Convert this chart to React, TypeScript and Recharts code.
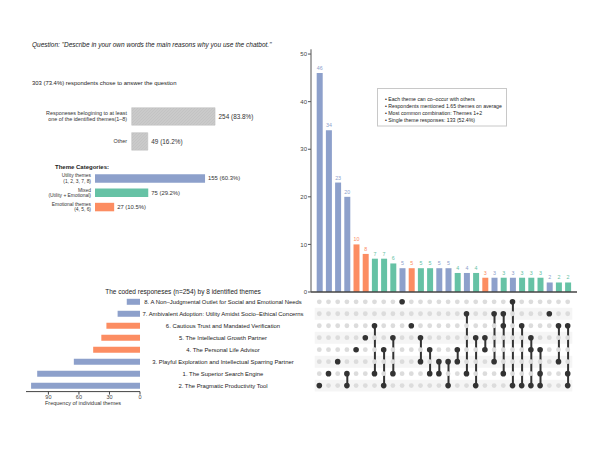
import {
  Bar,
  BarChart,
  Cell,
  ComposedChart,
  LabelList,
  Line,
  ReferenceArea,
  ReferenceLine,
  XAxis,
  YAxis,
} from "recharts";

const FONT = "'Liberation Sans', Arial, sans-serif";
const UTIL = "#8da0cb";
const MIXED = "#66c2a5";
const EMO = "#fc8d62";

// top-left: who answered
const answerLabels = [
  "Responeses belogining to at least\none of the identified themes(1–8)",
  "Other",
];
const answerCounts = [254, 49];
const answerPcts = ["83.8%", "16.2%"];

// theme categories
const categoryLabels = [
  "Utility themes\n(1, 2, 3, 7, 8)",
  "Mixed\n(Utility + Emotional)",
  "Emotional themes\n(4, 5, 6)",
];
const categoryCounts = [155, 75, 27];
const categoryPcts = ["60.3%", "29.2%", "10.5%"];

// matrix rows, top to bottom
const themeOrder = [8, 7, 6, 5, 4, 3, 1, 2];
const themeNames = [
  "8. A Non–Judgmental Outlet for Social and Emotional Needs",
  "7. Ambivalent Adoption: Utility Amidst Socio–Ethical Concerns",
  "6. Cautious Trust and Mandated Verification",
  "5. The Intellectual Growth Partner",
  "4. The Personal Life Advisor",
  "3. Playful Exploration and Intellectual Sparring Partner",
  "1. The Superior Search Engine",
  "2. The Pragmatic Productivity Tool",
];
const themeFreq = [13, 22, 33, 38, 46, 65, 101, 107];

// intersections
const comboCounts = [
  46, 34, 23, 20, 10, 8, 7, 7, 6, 5, 5, 5, 5, 5, 5, 4, 4, 4, 3, 3, 3, 3, 3, 3, 3, 2, 2, 2,
];
const comboThemes = [
  [2], [1], [3], [1, 2], [4], [5], [6, 1], [4, 2], [5, 1], [8], [6], [5, 3], [4, 1], [3, 1],
  [3, 2], [4, 3], [7, 1], [5, 2], [5, 4], [7, 3], [7, 6, 1], [8, 2], [6, 2], [5, 4, 2],
  [4, 1, 2], [7], [6, 3], [6, 1, 2],
];
const utilityThemes = [1, 2, 3, 7, 8];

const comboColor = (themes: number[]) => {
  const u = themes.filter((t) => utilityThemes.includes(t)).length;
  if (u === themes.length) return UTIL;
  if (u === 0) return EMO;
  return MIXED;
};

const comboData = comboCounts.map((count, i) => {
  const rows = comboThemes[i].map((t) => themeOrder.indexOf(t));
  const d: any = {
    id: `c${i}`,
    count,
    themes: comboThemes[i],
    color: comboColor(comboThemes[i]),
    span: rows.length > 1 ? [Math.min(...rows), Math.max(...rows)] : null,
  };
  themeOrder.forEach((_, r) => (d[`r${r}`] = r));
  return d;
});

const answerData = answerLabels.map((name, i) => ({
  name,
  count: answerCounts[i],
  pct: answerPcts[i],
}));
const categoryData = categoryLabels.map((name, i) => ({
  name,
  count: categoryCounts[i],
  pct: categoryPcts[i],
  color: [UTIL, MIXED, EMO][i],
}));
const themeData = themeOrder.map((t, i) => ({
  name: themeNames[i],
  freq: themeFreq[i],
  color: utilityThemes.includes(t) ? UTIL : EMO,
}));

const multiTick = (x: number, size: number, lh: number) => (props: any) => {
  const { y, payload } = props;
  const lines = String(payload.value).split("\n");
  const y0 = y - ((lines.length - 1) * lh) / 2;
  return (
    <text x={x} y={y0} textAnchor="end" fontSize={size} fill="#333" fontFamily={FONT}>
      {lines.map((l, k) => (
        <tspan key={k} x={x} y={y0 + k * lh} dy={size * 0.35}>
          {l}
        </tspan>
      ))}
    </text>
  );
};

const ThemeTick = (props: any) => (
  <text
    x={223}
    y={props.y}
    dy={2}
    textAnchor="middle"
    fontSize={5.9}
    fill="#222"
    fontFamily={FONT}
  >
    {props.payload.value}
  </text>
);

const makeDot = (row: number) => (p: any) => {
  const on = p.payload.themes.includes(themeOrder[row]);
  return (
    <circle
      key={`d${row}-${p.index}`}
      cx={p.cx}
      cy={p.cy}
      r={on ? 2.8 : 2.4}
      fill={on ? "#333" : "#dcdcdc"}
    />
  );
};

const abs = { position: "absolute" as const, left: 0, top: 0 };

export default function App() {
  return (
    <div
      style={{
        position: "absolute",
        left: 0,
        top: 0,
        width: 600,
        height: 450,
        background: "#fff",
        fontFamily: FONT,
      }}
    >
      {/* answered vs other */}
      <div style={abs}>
        <BarChart
          width={600}
          height={450}
          data={answerData}
          layout="vertical"
          margin={{ top: 103.7, bottom: 296.3, left: 31.7, right: 376.4 }}
          barCategoryGap={0}
        >
          <defs>
            <pattern id="hatch" patternUnits="userSpaceOnUse" width={3} height={3}>
              <rect width={3} height={3} fill="#cacaca" />
              <path d="M0,3 L3,0" stroke="#bdbdbd" strokeWidth={0.6} />
            </pattern>
          </defs>
          <XAxis type="number" domain={[0, 280]} hide />
          <YAxis
            type="category"
            dataKey="name"
            width={100}
            axisLine={false}
            tickLine={false}
            interval={0}
            tick={multiTick(127, 5.4, 6)}
          />
          <Bar
            dataKey="count"
            barSize={17.5}
            fill="url(#hatch)"
            stroke="#bcbcbc"
            strokeWidth={0.5}
            isAnimationActive={false}
          >
            <LabelList
              dataKey="count"
              content={(p: any) => (
                <text
                  x={p.x + p.width + 3.5}
                  y={p.y + p.height / 2}
                  dy={2.3}
                  fontSize={6.4}
                  fill="#333"
                  fontFamily={FONT}
                >
                  {`${p.value} (${answerData[p.index].pct})`}
                </text>
              )}
            />
          </Bar>
        </BarChart>
      </div>

      {/* theme categories */}
      <div style={abs}>
        <BarChart
          width={600}
          height={450}
          data={categoryData}
          layout="vertical"
          margin={{ top: 171.2, bottom: 235.9, left: 35, right: 363 }}
          barCategoryGap={0}
        >
          <XAxis type="number" domain={[0, 200]} hide />
          <YAxis
            type="category"
            dataKey="name"
            width={60}
            axisLine={false}
            tickLine={false}
            interval={0}
            tick={multiTick(91, 4.9, 5.3)}
          />
          <Bar dataKey="count" barSize={8.5} isAnimationActive={false}>
            {categoryData.map((d, i) => (
              <Cell key={i} fill={d.color} />
            ))}
            <LabelList
              dataKey="count"
              content={(p: any) => (
                <text
                  x={p.x + p.width + 3}
                  y={p.y + p.height / 2}
                  dy={2}
                  fontSize={5.9}
                  fill="#333"
                  fontFamily={FONT}
                >
                  {`${p.value} (${categoryData[p.index].pct})`}
                </text>
              )}
            />
          </Bar>
        </BarChart>
      </div>

      {/* intersection sizes */}
      <div style={abs}>
        <BarChart
          width={600}
          height={450}
          data={comboData}
          margin={{ top: 49.3, bottom: 158, left: 291, right: 23 }}
          barCategoryGap={0}
        >
          <XAxis dataKey="id" hide padding={{ left: 3.7, right: 4.7 }} />
          <YAxis
            width={20}
            domain={[0, 51]}
            ticks={[0, 10, 20, 30, 40, 50]}
            tickSize={3}
            tickMargin={1}
            axisLine={{ stroke: "#555" }}
            tickLine={{ stroke: "#555" }}
            tick={{ fontSize: 6, fill: "#444", fontFamily: FONT }}
          />
          <Bar dataKey="count" barSize={6} isAnimationActive={false}>
            {comboData.map((d, i) => (
              <Cell key={i} fill={d.color} />
            ))}
            <LabelList
              dataKey="count"
              content={(p: any) => (
                <text
                  x={p.x + p.width / 2}
                  y={p.y - 3}
                  textAnchor="middle"
                  fontSize={5.3}
                  fill={comboData[p.index].color}
                  fontFamily={FONT}
                >
                  {p.value}
                </text>
              )}
            />
          </Bar>
          <ReferenceLine y={0} stroke="#444" strokeWidth={1.5} />
        </BarChart>
      </div>

      {/* membership matrix */}
      <div style={abs}>
        <ComposedChart
          width={600}
          height={450}
          data={comboData}
          margin={{ top: 295.8, bottom: 58.4, left: 311, right: 23 }}
          barCategoryGap={0}
        >
          <XAxis dataKey="id" hide padding={{ left: 3.7, right: 4.7 }} />
          <YAxis type="number" domain={[-0.5, 7.5]} reversed hide />
          {[1, 3, 5, 7].map((r) => (
            <ReferenceArea
              key={r}
              y1={r - 0.5}
              y2={r + 0.5}
              fill="#f5f5f5"
              fillOpacity={1}
              stroke="none"
            />
          ))}
          <Bar dataKey="span" barSize={2} fill="#333" isAnimationActive={false} />
          {themeOrder.map((_, r) => (
            <Line
              key={r}
              dataKey={`r${r}`}
              stroke="none"
              strokeWidth={0}
              dot={makeDot(r)}
              activeDot={false}
              isAnimationActive={false}
            />
          ))}
        </ComposedChart>
      </div>

      {/* theme frequencies */}
      <div style={abs}>
        <BarChart
          width={600}
          height={450}
          data={themeData}
          layout="vertical"
          margin={{ top: 295.8, bottom: 46.4, left: 26, right: 300 }}
          barCategoryGap={0}
        >
          <XAxis
            type="number"
            domain={[0, 112]}
            reversed
            ticks={[0, 30, 60, 90]}
            height={12}
            tickSize={3}
            tickMargin={0}
            axisLine={{ stroke: "#444" }}
            tickLine={{ stroke: "#444" }}
            tick={{ fontSize: 5.5, fill: "#444", fontFamily: FONT }}
          />
          <YAxis
            type="category"
            dataKey="name"
            orientation="right"
            width={160}
            axisLine={false}
            tickLine={false}
            interval={0}
            tick={ThemeTick}
          />
          <Bar dataKey="freq" barSize={6} isAnimationActive={false}>
            {themeData.map((d, i) => (
              <Cell key={i} fill={d.color} />
            ))}
          </Bar>
        </BarChart>
      </div>

      {/* titles and note box */}
      <svg width={600} height={450} style={abs} fontFamily={FONT}>
        <text x={32} y={47} fontSize={6.5} fontStyle="italic" fill="#222">
          Question: "Describe in your own words the main reasons why you use the chatbot."
        </text>
        <text x={32} y={85} fontSize={5.9} fill="#222">
          303 (73.4%) respondents chose to answer the question
        </text>
        <text x={55} y={169} fontSize={6} fontWeight="bold" fill="#222">
          Theme Categories:
        </text>
        <text x={183} y={293.5} fontSize={6.5} textAnchor="middle" fill="#222">
          The coded responeses (n=254) by 8 identified themes
        </text>
        <text x={83} y={404.5} fontSize={5.5} textAnchor="middle" fill="#333">
          Frequency of individual themes
        </text>
        <rect x={377.5} y={88.5} width={129} height={37.5} fill="#fff" stroke="#c8c8c8" />
        {[
          "• Each theme can co–occur with others",
          "• Respondents mentioned 1.65 themes on average",
          "• Most common combination: Themes 1+2",
          "• Single theme responses: 133 (52.4%)",
        ].map((t, i) => (
          <text key={i} x={385} y={100.5 + i * 7} fontSize={5.2} fill="#222">
            {t}
          </text>
        ))}
      </svg>
    </div>
  );
}
